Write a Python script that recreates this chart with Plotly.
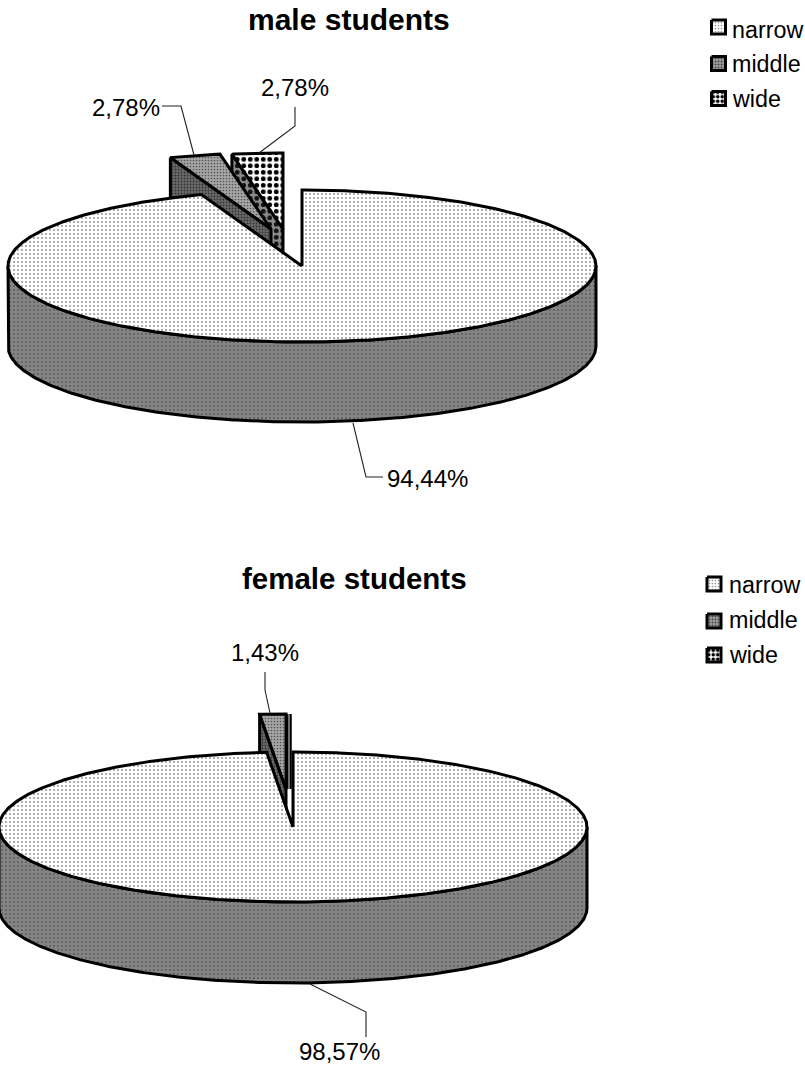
import math
import plotly.graph_objects as go

CATEGORIES = ["narrow", "middle", "wide"]
MALE_SHARES = [94.44, 2.78, 2.78]
FEMALE_SHARES = [98.57, 1.43, 0.0]
MALE_TITLE = "male students"
FEMALE_TITLE = "female students"

FONT = "Liberation Sans"
OUTLINE = "#000000"

# Hatch fills of each category
TOP_STYLE = {
    "narrow": dict(shape=".", bgcolor="#ffffff", fgcolor="#8a8a8a", fgopacity=1, size=4, solidity=0.16),
    "middle": dict(shape=".", bgcolor="#a6a6a6", fgcolor="#555555", fgopacity=1, size=3, solidity=0.25),
    "wide": dict(shape=".", bgcolor="#ffffff", fgcolor="#000000", fgopacity=1, size=6.5, solidity=0.42),
}
WALL_STYLE = {
    "narrow": dict(shape=".", bgcolor="#858585", fgcolor="#5c5c5c", fgopacity=1, size=4, solidity=0.2),
    "middle": dict(shape=".", bgcolor="#6a6a6a", fgcolor="#333333", fgopacity=1, size=3, solidity=0.3),
    "wide": dict(shape=".", bgcolor="#8c8c8c", fgcolor="#111111", fgopacity=1, size=6.5, solidity=0.42),
}
SWATCH_STYLE = {
    "narrow": dict(shape=".", bgcolor="#ffffff", fgcolor="#999999", fgopacity=1, size=3, solidity=0.25),
    "middle": dict(shape=".", bgcolor="#a0a0a0", fgcolor="#444444", fgopacity=1, size=3, solidity=0.35),
    "wide": dict(shape=".", bgcolor="#ffffff", fgcolor="#000000", fgopacity=1, size=4.5, solidity=0.5),
}

fig = go.Figure()


def pie_point(cx, cy, rx, ry, angle):
    """Point on the pie's rim; the angle runs clockwise from twelve o'clock."""
    rad = math.radians(angle)
    return cx + rx * math.sin(rad), cy - ry * math.cos(rad)


def polygon(points, pattern, width=3.0):
    xs = [p[0] for p in points] + [points[0][0]]
    ys = [p[1] for p in points] + [points[0][1]]
    fig.add_trace(go.Scatter(
        x=xs, y=ys, mode="lines", fill="toself", fillpattern=pattern,
        fillcolor=pattern["bgcolor"],
        line=dict(color=OUTLINE, width=width), hoverinfo="skip", showlegend=False,
    ))


def arc(cx, cy, rx, ry, start, stop):
    steps = max(2, int(abs(stop - start)) * 2)
    return [pie_point(cx, cy, rx, ry, start + (stop - start) * i / steps) for i in range(steps + 1)]


def draw_slice(cx, cy, rx, ry, depth, start, stop, name):
    # Side wall along the slice's leading radial edge
    if 180 < start < 360 and stop > start:
        rim = pie_point(cx, cy, rx, ry, start)
        polygon([rim, (cx, cy), (cx, cy + depth), (rim[0], rim[1] + depth)], WALL_STYLE[name])
    # Front rim wall, visible only on the lower half of the ellipse
    low, high = max(start, 90), min(stop, 270)
    if high > low:
        upper = arc(cx, cy, rx, ry, low, high)
        lower = [(x, y + depth) for x, y in reversed(upper)]
        polygon(upper + lower, WALL_STYLE[name])
    # Top face
    polygon([(cx, cy)] + arc(cx, cy, rx, ry, start, stop), TOP_STYLE[name])


def draw_pie(shares, cx, cy, rx, ry, depth, offsets):
    bounds = []
    angle = 0.0
    for share in shares:
        bounds.append((angle, angle + share * 3.6))
        angle += share * 3.6
    # Back-to-front: the last slice sits furthest away, the largest slice in front
    for i in reversed(range(len(shares))):
        dx, dy = offsets[i]
        start, stop = bounds[i]
        if shares[i] > 0:
            draw_slice(cx + dx, cy + dy, rx, ry, depth, start, stop, CATEGORIES[i])
        else:
            # An empty slice collapses to a sliver along its radial edge
            rim = pie_point(cx + dx, cy + dy, rx, ry, start)
            for width, color in ((5.5, OUTLINE), (1.6, "#8c8c8c")):
                fig.add_trace(go.Scatter(
                    x=[rim[0], cx + dx], y=[rim[1], cy + dy], mode="lines",
                    line=dict(color=color, width=width), hoverinfo="skip", showlegend=False,
                ))


def leader(xs, ys):
    fig.add_trace(go.Scatter(
        x=xs, y=ys, mode="lines", line=dict(color="#222222", width=1.1),
        hoverinfo="skip", showlegend=False,
    ))


def text(x, y, label, size=24, bold=False, anchor="center"):
    fig.add_annotation(
        x=x, y=y, text=f"<b>{label}</b>" if bold else label, showarrow=False,
        xanchor=anchor, yanchor="middle", xref="x", yref="y",
        font=dict(family=FONT, size=size, color="#000000"),
    )


def pct(value):
    return f"{value:.2f}".replace(".", ",") + "%"


def legend(x_box, x_text, rows, text_rows, size):
    for name, y, y_text in zip(CATEGORIES, rows, text_rows):
        half = size / 2
        polygon([(x_box, y - half), (x_box + size, y - half),
                 (x_box + size, y + half), (x_box, y + half)],
                SWATCH_STYLE[name], width=3)
        text(x_text, y_text, name, size=23.3, anchor="left")


# Upper pie
draw_pie(MALE_SHARES, 302, 266, 294, 76, 80, [(0, 0), (-31, -37), (-19, -37)])
leader([162, 181, 194], [106, 106, 155])
leader([295, 295, 259], [107, 126, 153])
leader([353, 366, 383], [423, 477, 477])
text(126, 107, pct(MALE_SHARES[1]))
text(295, 87, pct(MALE_SHARES[2]))
text(427, 478, pct(MALE_SHARES[0]))
text(349, 19, MALE_TITLE, size=30, bold=True)
legend(711.5, 730, [27, 63.5, 98.5], [30, 64, 99], 14)

# Lower pie
draw_pie(FEMALE_SHARES, 293, 827, 294, 75, 81, [(0, 0), (-7, -38), (-4, -38)])
leader([265, 265, 270], [672, 690, 713])
leader([310, 366, 366], [984, 1012, 1037])
text(265, 652, pct(FEMALE_SHARES[1]))
text(339, 1051, pct(FEMALE_SHARES[0]))
text(354, 578, FEMALE_TITLE, size=29.5, bold=True)
legend(707, 726.5, [584, 621, 655], [585, 620, 655], 14)

fig.update_layout(
    width=805, height=1066, margin=dict(l=0, r=0, t=0, b=0),
    paper_bgcolor="#ffffff", plot_bgcolor="#ffffff", showlegend=False,
    xaxis=dict(range=[0, 805], visible=False, fixedrange=True),
    yaxis=dict(range=[1066, 0], visible=False, fixedrange=True),
)
fig.write_html("out.html", config=dict(displayModeBar=False))
